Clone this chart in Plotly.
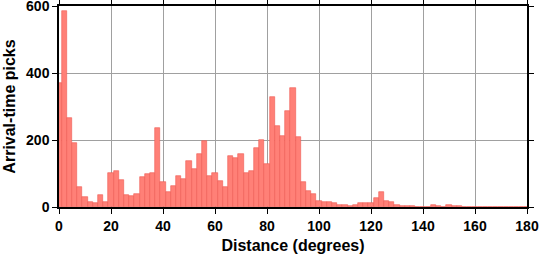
import plotly.graph_objects as go

# Bin centres (degrees) and counts of arrival-time picks
bin_centers = list(range(0, 181, 2))
counts = [
    370, 585, 267, 192, 61, 31, 16, 13, 37, 16,
    103, 106, 82, 37, 34, 40, 90, 100, 102, 235,
    75, 45, 64, 94, 85, 136, 114, 159, 196, 94,
    102, 78, 61, 151, 145, 157, 103, 106, 177, 201,
    127, 328, 241, 211, 288, 355, 209, 74, 49, 40,
    19, 16, 16, 12, 7, 7, 4, 6, 11, 11,
    11, 28, 46, 19, 16, 7, 4, 3, 2, 1,
    0, 1, 6, 3, 1, 6, 2, 2, 0, 0,
    0, 0, 1, 1, 0, 0, 0, 0, 0, 0,
    0,
]
x_ticks = [0, 20, 40, 60, 80, 100, 120, 140, 160, 180]
y_ticks = [0, 200, 400, 600]

FONT = "Liberation Sans"

fig = go.Figure()
fig.add_trace(go.Bar(
    x=bin_centers,
    y=counts,
    width=2,
    marker=dict(color="#FF8077", line=dict(color="#EE5A52", width=0.6)),
))

axis_common = dict(
    showline=True, linecolor="black", linewidth=1.5, mirror="ticks",
    ticks="outside", ticklen=5, tickwidth=1, tickcolor="black",
    showgrid=True, gridcolor="#A0A0A0", gridwidth=0.7,
    zeroline=False, automargin=False, ticklabeloverflow="allow",
    tickfont=dict(family=FONT, size=14, color="black", weight="bold"),
)

fig.update_layout(
    width=539, height=258,
    margin=dict(l=59, r=12, t=6, b=51),
    paper_bgcolor="white", plot_bgcolor="white",
    showlegend=False,
    bargap=0,
    xaxis=dict(
        range=[0, 180], tickvals=x_ticks,
        title=dict(text="Distance (degrees)", standoff=7,
                   font=dict(family=FONT, size=16, color="black", weight="bold")),
        **axis_common,
    ),
    yaxis=dict(
        range=[0, 600], tickvals=y_ticks,
        title=dict(text="Arrival-time picks", standoff=6,
                   font=dict(family=FONT, size=16, color="black", weight="bold")),
        **axis_common,
    ),
)

fig.write_html("out.html")
